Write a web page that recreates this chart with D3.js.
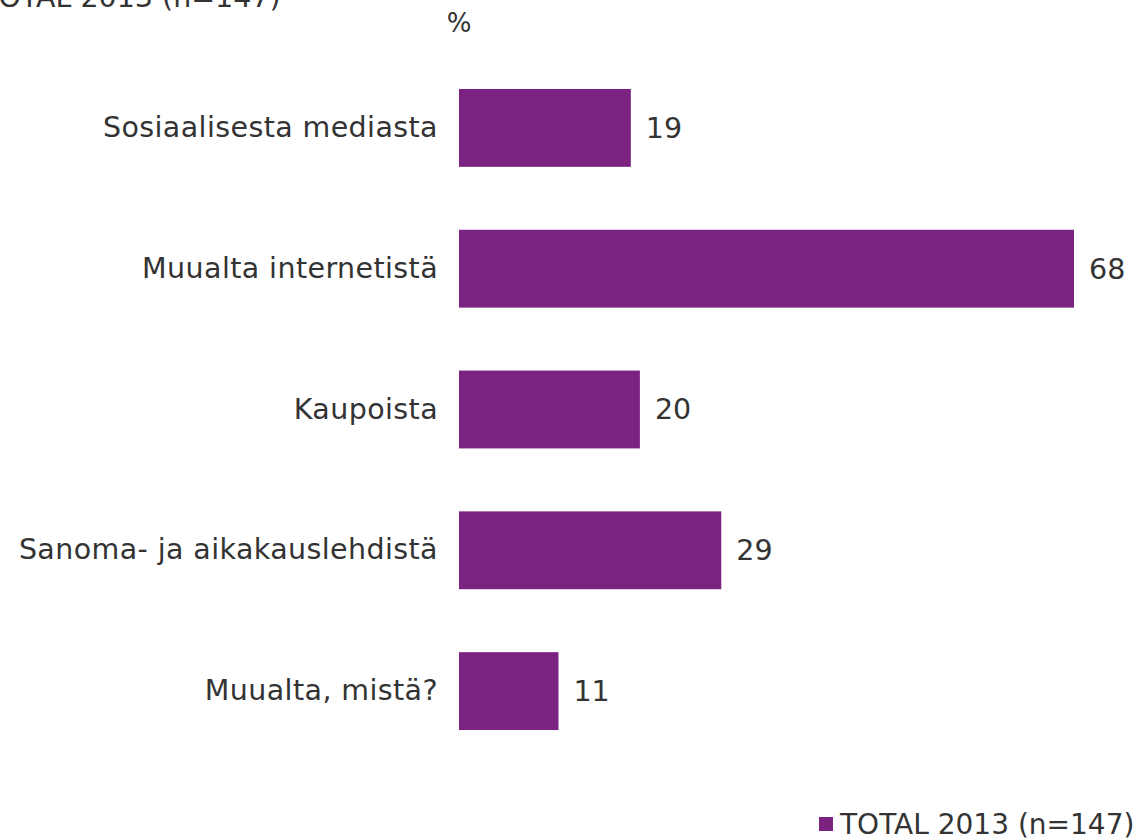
<!DOCTYPE html>
<html>
<head>
<meta charset="utf-8">
<script src="https://cdn.jsdelivr.net/npm/d3@7"></script>
<style>
  html, body { margin: 0; padding: 0; background: #fff; }
  svg { display: block; font-family: "DejaVu Sans", Verdana, sans-serif; }
</style>
</head>
<body>
<svg id="chart" width="1142" height="840"></svg>
<script>
// Where respondents heard about it (%)
const categories = [
  "Sosiaalisesta mediasta",
  "Muualta internetistä",
  "Kaupoista",
  "Sanoma- ja aikakauslehdistä",
  "Muualta, mistä?"
];
const values = [19, 68, 20, 29, 11];
const seriesName = "TOTAL 2013 (n=147)";
const unitLabel = "%";

const barColor = "#7B2380";
const textColor = "#333333";
const fontSize = 28.5;

const svg = d3.select("#chart");

const x = d3.scaleLinear().domain([0, 68]).range([459, 1074]);
const y = d3.scaleBand()
  .domain(categories)
  .range([57.5, 761.5])
  .paddingInner(0.447)
  .paddingOuter(0.2235);

// Series title at the top, partly clipped by the frame
svg.append("text")
  .attr("x", -19).attr("y", 7)
  .attr("font-size", fontSize).attr("fill", textColor)
  .text(seriesName);

svg.append("text")
  .attr("x", x(0)).attr("y", 32)
  .attr("text-anchor", "middle")
  .attr("font-size", 26).attr("fill", textColor)
  .text(unitLabel);

const data = categories.map((c, i) => ({ c, v: values[i] }));

svg.selectAll("rect.bar").data(data).join("rect")
  .attr("class", "bar")
  .attr("x", x(0))
  .attr("y", d => y(d.c))
  .attr("width", d => x(d.v) - x(0))
  .attr("height", y.bandwidth())
  .attr("fill", barColor);

// Category axis labels
const yAxis = d3.axisLeft(y).tickSize(0).tickPadding(21);
const gy = svg.append("g").attr("transform", `translate(${x(0)},0)`).call(yAxis);
gy.select(".domain").remove();
gy.selectAll("text")
  .attr("font-size", fontSize)
  .attr("letter-spacing", 0.4)
  .attr("font-family", "DejaVu Sans, Verdana, sans-serif")
  .attr("fill", textColor);

// Value labels
svg.selectAll("text.val").data(data).join("text")
  .attr("class", "val")
  .attr("x", d => x(d.v) + 15)
  .attr("y", d => y(d.c) + y.bandwidth() / 2)
  .attr("dy", "0.35em")
  .attr("font-size", fontSize).attr("fill", textColor)
  .text(d => d.v);

// Legend
const lg = svg.append("g").attr("transform", "translate(819,817)");
lg.append("rect").attr("width", 14).attr("height", 14).attr("fill", barColor);
lg.append("text")
  .attr("x", 21).attr("y", 17)
  .attr("font-size", 28).attr("fill", textColor)
  .text(seriesName);
</script>
</body>
</html>
